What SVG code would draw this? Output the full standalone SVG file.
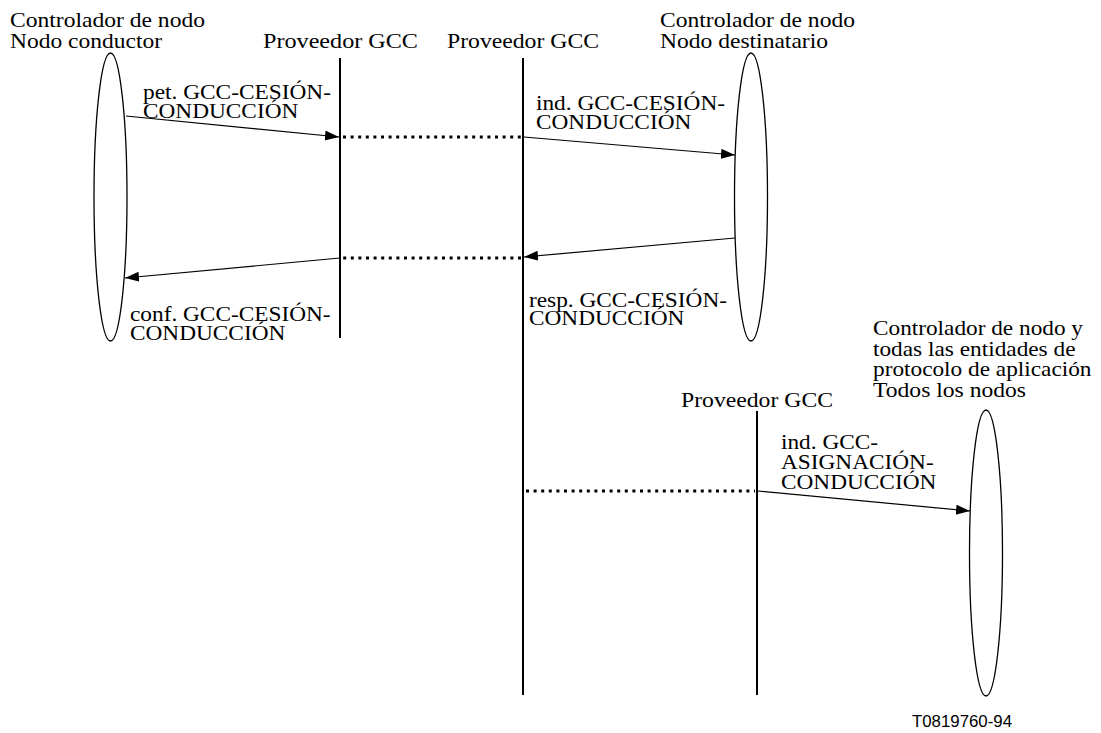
<svg xmlns="http://www.w3.org/2000/svg" width="1101" height="733" viewBox="0 0 1101 733">
<defs>
<style>
text{font-family:'Liberation Serif','Times New Roman',serif;font-size:21px;fill:#000}
text.id{font-family:'Liberation Sans',Arial,sans-serif;font-size:16px}
.life{stroke:#000;stroke-width:2;fill:none}
.oval{stroke:#000;stroke-width:1.3;fill:#fff}
.msg{stroke:#000;stroke-width:1.2;fill:none;marker-end:url(#ah)}
.dot{stroke:#000;stroke-width:3;fill:none;stroke-dasharray:3 4.6}
</style>
<marker id="ah" markerUnits="userSpaceOnUse" markerWidth="15" markerHeight="11" refX="14" refY="5" orient="auto">
<path d="M0,0 L14,5 L0,10 z" fill="#000"/>
</marker>
</defs>
<rect width="1101" height="733" fill="#fff"/>

<g id="node-conductor">
<text x="10" y="27" textLength="195" lengthAdjust="spacingAndGlyphs">Controlador de nodo</text>
<text x="10" y="48" textLength="152" lengthAdjust="spacingAndGlyphs">Nodo conductor</text>
<ellipse class="oval" cx="110.5" cy="197" rx="16.5" ry="144"/>
</g>

<g id="proveedor-1">
<text x="263" y="48" textLength="155" lengthAdjust="spacingAndGlyphs">Proveedor GCC</text>
<line class="life" x1="340" y1="58" x2="340" y2="338"/>
</g>

<g id="proveedor-2">
<text x="447" y="48" textLength="152" lengthAdjust="spacingAndGlyphs">Proveedor GCC</text>
<line class="life" x1="523" y1="58" x2="523" y2="695"/>
</g>

<g id="node-destinatario">
<text x="660" y="27" textLength="195" lengthAdjust="spacingAndGlyphs">Controlador de nodo</text>
<text x="660" y="48" textLength="168" lengthAdjust="spacingAndGlyphs">Nodo destinatario</text>
<ellipse class="oval" cx="751" cy="197" rx="16.5" ry="144"/>
</g>

<g id="proveedor-3">
<text x="681" y="407" textLength="152" lengthAdjust="spacingAndGlyphs">Proveedor GCC</text>
<line class="life" x1="757" y1="411" x2="757" y2="695"/>
</g>

<g id="node-todos">
<text x="873" y="335" textLength="210" lengthAdjust="spacingAndGlyphs">Controlador de nodo y</text>
<text x="873" y="355.5" textLength="202.5" lengthAdjust="spacingAndGlyphs">todas las entidades de</text>
<text x="873" y="376" textLength="218.5" lengthAdjust="spacingAndGlyphs">protocolo de aplicación</text>
<text x="873" y="396.5" textLength="153" lengthAdjust="spacingAndGlyphs">Todos los nodos</text>
<ellipse class="oval" cx="986" cy="553" rx="16.5" ry="143"/>
</g>

<g id="connectors">
<line class="msg" x1="126" y1="116" x2="339" y2="137"/>
<line class="dot" x1="343" y1="137" x2="521" y2="137"/>
<line class="msg" x1="524" y1="137" x2="735" y2="155"/>
<line class="msg" x1="735" y1="238" x2="524" y2="257"/>
<line class="dot" x1="521" y1="258" x2="343" y2="258"/>
<line class="msg" x1="340" y1="258" x2="125" y2="278"/>
<line class="dot" x1="526" y1="491" x2="755" y2="491"/>
<line class="msg" x1="758" y1="491" x2="970" y2="511"/>
</g>

<g id="labels">
<text x="143" y="99" textLength="188" lengthAdjust="spacingAndGlyphs">pet. GCC-CESIÓN-</text>
<text x="143" y="117.5" textLength="155.3" lengthAdjust="spacingAndGlyphs">CONDUCCIÓN</text>
<text x="536" y="110" textLength="189" lengthAdjust="spacingAndGlyphs">ind. GCC-CESIÓN-</text>
<text x="536" y="128.5" textLength="155.3" lengthAdjust="spacingAndGlyphs">CONDUCCIÓN</text>
<text x="130" y="321" textLength="200.6" lengthAdjust="spacingAndGlyphs">conf. GCC-CESIÓN-</text>
<text x="130" y="339.5" textLength="155.3" lengthAdjust="spacingAndGlyphs">CONDUCCIÓN</text>
<text x="529" y="306.5" textLength="198" lengthAdjust="spacingAndGlyphs">resp. GCC-CESIÓN-</text>
<text x="529" y="325" textLength="155.3" lengthAdjust="spacingAndGlyphs">CONDUCCIÓN</text>
<text x="781" y="449" textLength="97" lengthAdjust="spacingAndGlyphs">ind. GCC-</text>
<text x="781" y="469" textLength="152.7" lengthAdjust="spacingAndGlyphs">ASIGNACIÓN-</text>
<text x="781" y="489" textLength="155.3" lengthAdjust="spacingAndGlyphs">CONDUCCIÓN</text>
</g>

<text id="figure-id" class="id" x="912" y="727" textLength="100" lengthAdjust="spacingAndGlyphs">T0819760-94</text>
</svg>
